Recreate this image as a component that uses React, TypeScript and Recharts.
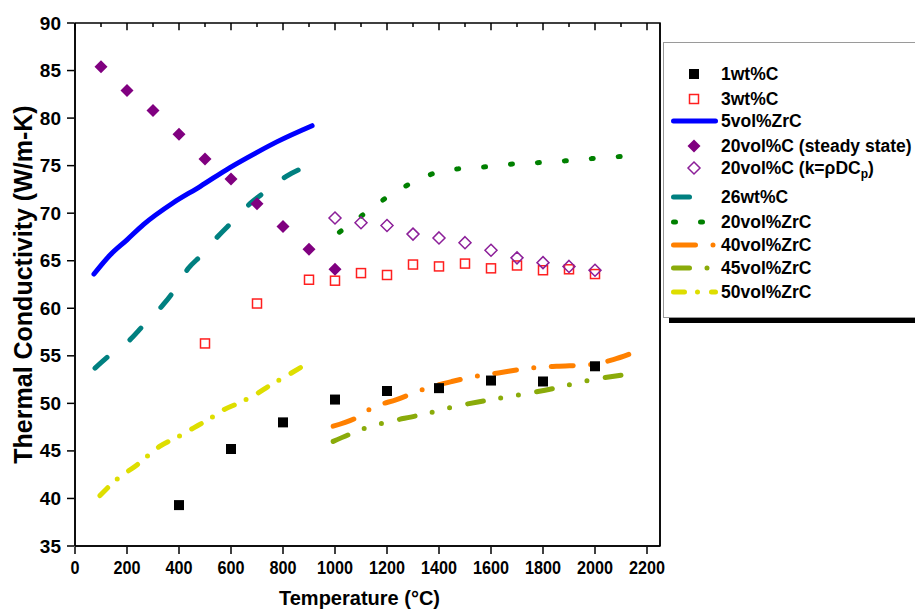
import { ComposedChart, Line, ReferenceArea, ReferenceLine, Scatter, XAxis, YAxis } from "recharts";

// 1wt%C (filled squares)
const t1wt = [400, 600, 800, 1000, 1200, 1400, 1600, 1800, 2000];
const k1wt = [39.3, 45.2, 48.0, 50.4, 51.3, 51.6, 52.4, 52.3, 53.9];

// 3wt%C (open squares)
const t3wt = [500, 700, 900, 1000, 1100, 1200, 1300, 1400, 1500, 1600, 1700, 1800, 1900, 2000];
const k3wt = [56.3, 60.5, 63.0, 62.9, 63.7, 63.5, 64.6, 64.4, 64.7, 64.2, 64.5, 64.0, 64.1, 63.6];

// 20vol%C steady state (filled diamonds)
const tSteady = [100, 200, 300, 400, 500, 600, 700, 800, 900, 1000];
const kSteady = [85.4, 82.9, 80.8, 78.3, 75.7, 73.6, 71.0, 68.6, 66.2, 64.1];

// 20vol%C k=rho*D*Cp (open diamonds)
const tFlash = [1000, 1100, 1200, 1300, 1400, 1500, 1600, 1700, 1800, 1900, 2000];
const kFlash = [69.5, 69.0, 68.7, 67.8, 67.4, 66.9, 66.1, 65.3, 64.8, 64.4, 64.0];

// curves
const t5ZrC = [73, 135, 200, 263, 378, 481, 596, 700, 776, 912];
const k5ZrC = [63.6, 65.6, 67.2, 68.8, 71.1, 72.8, 74.8, 76.4, 77.5, 79.2];

const t26wt = [77, 135, 212, 263, 340, 385, 436, 487, 551, 609, 673, 744, 814, 897];
const k26wt = [53.7, 55.1, 56.7, 58.2, 60.4, 62.0, 64.2, 65.6, 67.6, 69.2, 71.0, 72.5, 73.9, 75.0];

const t20ZrC = [1017, 1106, 1196, 1282, 1382, 1487, 1592, 1699, 1804, 1908, 2013, 2119];
const k20ZrC = [68.0, 69.8, 71.6, 73.0, 74.2, 74.7, 74.9, 75.2, 75.35, 75.55, 75.8, 76.0];

const t40ZrC = [993, 1090, 1141, 1237, 1353, 1449, 1532, 1628, 1750, 1852, 1973, 2070, 2135];
const k40ZrC = [47.6, 48.6, 49.5, 50.4, 51.6, 52.3, 52.8, 53.2, 53.7, 53.9, 54.05, 54.6, 55.2];

const t45ZrC = [993, 1070, 1128, 1196, 1314, 1378, 1449, 1583, 1709, 1846, 1974, 2109];
const k45ZrC = [46.0, 46.9, 47.5, 48.0, 48.7, 49.1, 49.6, 50.3, 50.9, 51.6, 52.4, 53.0];

const t50ZrC = [96, 160, 237, 327, 397, 455, 513, 570, 635, 692, 756, 814, 882];
const k50ZrC = [40.3, 42.0, 43.5, 45.5, 46.5, 47.4, 48.3, 49.3, 50.1, 50.9, 52.0, 52.9, 54.0];

const xMajor = [0, 200, 400, 600, 800, 1000, 1200, 1400, 1600, 1800, 2000, 2200];
const yMajor = [35, 40, 45, 50, 55, 60, 65, 70, 75, 80, 85, 90];

const xMinor = xMajor.map((t) => t + 100).filter((t) => t < 2250);
const yMinor = yMajor.flatMap((t) => [t + 1, t + 2, t + 3, t + 4]).filter((t) => t < 90);

const X_MIN = 0;
const X_MAX = 2250;
const Y_MIN = 35;
const Y_TOP = 90;
const X_DOMAIN = [X_MIN, X_MAX];
const Y_DOMAIN = [Y_MIN, Y_TOP];
// inward tick lengths on the top frame, in y units (about 7px and 4px)
const TOP_MAJOR_LEN = 0.75;
const TOP_MINOR_LEN = 0.42;

const pts = (xs: number[], ys: number[]) => xs.map((x, i) => ({ x, y: ys[i] }));

const FONT = "'Liberation Sans', Arial, sans-serif";
const AXIS_LINE = { stroke: "#000", strokeWidth: 1.5 };
const TICK_LINE = { stroke: "#000", strokeWidth: 1.5 };

const BottomTick = ({ x, y, payload }: any) => (
  <text
    transform={`translate(${x},${y + 14}) scale(0.9,1)`}
    textAnchor="middle"
    dominantBaseline="central"
    fontFamily={FONT}
    fontWeight="bold"
    fontSize={18}
    fill="#000"
  >
    {payload.value}
  </text>
);

const LeftTick = ({ x, y, payload }: any) => (
  <text
    x={x - 6}
    y={y}
    textAnchor="end"
    dominantBaseline="central"
    fontFamily={FONT}
    fontWeight="bold"
    fontSize={19}
    fill="#000"
  >
    {payload.value}
  </text>
);

const FilledSquare = ({ cx, cy }: any) => <rect x={cx - 5} y={cy - 5} width={10} height={10} fill="#000" />;
const OpenSquare = ({ cx, cy }: any) => (
  <rect x={cx - 4.5} y={cy - 4.5} width={9} height={9} fill="none" stroke="#ff1f1f" strokeWidth={1.5} />
);
const diamond = (cx: number, cy: number, r: number) =>
  `${cx},${cy - r} ${cx + r},${cy} ${cx},${cy + r} ${cx - r},${cy}`;
const FilledDiamond = ({ cx, cy }: any) => <polygon points={diamond(cx, cy, 6.5)} fill="#800080" />;
const OpenDiamond = ({ cx, cy }: any) => (
  <polygon points={diamond(cx, cy, 6)} fill="none" stroke="#8c1f99" strokeWidth={1.5} />
);

const DASH = {
  teal: "16 29",
  green: "2 25",
  orange: "22 17.5 0 17.5",
  olive: "16 17.5 0 18 0 18.5",
  yellow: "11 13 0 14",
};

const legendRows = [
  { label: "1wt%C", kind: "fsq" },
  { label: "3wt%C", kind: "osq" },
  { label: "5vol%ZrC", kind: "line", color: "#0000ff" },
  { label: "20vol%C (steady state)", kind: "fdia" },
  { label: "20vol%C (k=ρDC", kind: "odia" },
  { label: "26wt%C", kind: "line", color: "#008080", dash: DASH.teal },
  { label: "20vol%ZrC", kind: "line", color: "#008000", dash: DASH.green },
  { label: "40vol%ZrC", kind: "line", color: "#ff8000", dash: DASH.orange },
  { label: "45vol%ZrC", kind: "line", color: "#8aab0a", dash: DASH.olive },
  { label: "50vol%ZrC", kind: "line", color: "#dede00", dash: DASH.yellow },
];
// row centres, relative to the legend box
const legendY = [31, 56, 78, 103, 125, 154, 179, 202, 225, 249];

const LegendBox = () => (
  <div
    style={{
      position: "absolute",
      left: 663,
      top: 42,
      width: 270,
      height: 274,
      border: "1px solid #9a9a9a",
      background: "#fff",
      boxShadow: "6px 5px 0 0 #000",
    }}
  >
    <svg width={270} height={274} style={{ display: "block" }}>
      {legendRows.map((r, i) => {
        const y = legendY[i];
        let sym = null;
        if (r.kind === "fsq") sym = <FilledSquare cx={30} cy={y} />;
        else if (r.kind === "osq") sym = <OpenSquare cx={30} cy={y} />;
        else if (r.kind === "fdia") sym = <FilledDiamond cx={30} cy={y} />;
        else if (r.kind === "odia") sym = <OpenDiamond cx={30} cy={y} />;
        else
          sym = (
            <line
              x1={9.5}
              x2={51.5}
              y1={y}
              y2={y}
              stroke={r.color}
              strokeWidth={5}
              strokeLinecap="round"
              strokeDasharray={r.dash}
            />
          );
        return (
          <g key={r.label}>
            {sym}
            <text x={57} y={y} dominantBaseline="central" fontFamily={FONT} fontWeight="bold" fontSize={17.5} fill="#000">
              {r.label}
              {r.kind === "odia" && (
                <>
                  <tspan fontSize={12} dy={6}>
                    p
                  </tspan>
                  <tspan dy={-6}>)</tspan>
                </>
              )}
            </text>
          </g>
        );
      })}
    </svg>
  </div>
);

const XTitle = ({ viewBox }: any) => (
  <text
    x={viewBox.x + viewBox.width / 2 - 8}
    y={viewBox.y + 51}
    textAnchor="middle"
    dominantBaseline="central"
    fontFamily={FONT}
    fontWeight="bold"
    fontSize={20}
    fill="#000"
  >
    Temperature (°C)
  </text>
);

const YTitle = ({ viewBox }: any) => (
  <text
    transform={`translate(23,${viewBox.y + viewBox.height / 2}) rotate(-90)`}
    textAnchor="middle"
    dominantBaseline="central"
    fontFamily={FONT}
    fontWeight="bold"
    fontSize={25}
    fill="#000"
  >
    Thermal Conductivity (W/m-K)
  </text>
);

const lineProps = {
  type: "monotone" as const,
  dataKey: "y",
  dot: false,
  activeDot: false,
  strokeWidth: 5,
  strokeLinecap: "round" as const,
  isAnimationActive: false,
  legendType: "none" as const,
};

const xCommon = {
  type: "number" as const,
  dataKey: "x",
  domain: X_DOMAIN,
  interval: 0 as const,
  tickMargin: 0,
  tickLine: TICK_LINE,
};
const yCommon = {
  type: "number" as const,
  dataKey: "y",
  domain: Y_DOMAIN,
  interval: 0 as const,
  tickMargin: 0,
  tickLine: TICK_LINE,
};

export default function App() {
  return (
    <div
      style={{
        position: "absolute",
        left: 0,
        top: 0,
        width: 915,
        height: 611,
        overflow: "hidden",
        background: "#fff",
        fontFamily: FONT,
      }}
    >
      <ComposedChart width={915} height={611} margin={{ top: 23, right: 253, bottom: 0, left: 0 }}>
        {/* bottom: majors with labels (b2), minors (b1) next to the plot */}
        <XAxis {...xCommon} xAxisId="b2" ticks={xMajor} tickSize={7} tick={<BottomTick />} height={64} axisLine={false} label={{ content: XTitle }} />
        <XAxis {...xCommon} xAxisId="b1" ticks={xMinor} tickSize={4} tick={false} height={1} axisLine={AXIS_LINE} />
        {/* left: majors with labels (l2), minors (l1) next to the plot */}
        <YAxis {...yCommon} yAxisId="l2" ticks={yMajor} tickSize={7} tick={<LeftTick />} width={74} axisLine={false} label={{ content: YTitle }} />
        <YAxis {...yCommon} yAxisId="l1" ticks={yMinor} tickSize={4} tick={false} width={1} axisLine={AXIS_LINE} />
        {/* right frame, inward ticks */}
        <YAxis {...yCommon} yAxisId="r2" orientation="right" ticks={yMajor} tickSize={-7} tick={false} width={1} axisLine={false} />
        <YAxis {...yCommon} yAxisId="r1" orientation="right" ticks={yMinor} tickSize={-4} tick={false} width={1} axisLine={AXIS_LINE} />

        {/* plot frame (gives the top edge) and inward ticks on the top edge */}
        <ReferenceArea
          xAxisId="b2"
          yAxisId="l2"
          x1={X_MIN}
          x2={X_MAX}
          y1={Y_MIN}
          y2={Y_TOP}
          fill="none"
          fillOpacity={0}
          stroke="#000"
          strokeWidth={1.5}
          ifOverflow="visible"
        />
        {[...xMajor, ...xMinor].map((t) => (
          <ReferenceLine
            key={t}
            xAxisId="b2"
            yAxisId="l2"
            segment={[
              { x: t, y: Y_TOP },
              { x: t, y: Y_TOP - (t % 200 === 0 ? TOP_MAJOR_LEN : TOP_MINOR_LEN) },
            ]}
            stroke="#000"
            strokeWidth={1.5}
            ifOverflow="visible"
          />
        ))}

        <Scatter xAxisId="b2" yAxisId="l2" data={pts(t1wt, k1wt)} shape={<FilledSquare />} isAnimationActive={false} />
        <Scatter xAxisId="b2" yAxisId="l2" data={pts(t3wt, k3wt)} shape={<OpenSquare />} isAnimationActive={false} />
        <Line xAxisId="b2" yAxisId="l2" data={pts(t5ZrC, k5ZrC)} stroke="#0000ff" {...lineProps} />
        <Scatter xAxisId="b2" yAxisId="l2" data={pts(tSteady, kSteady)} shape={<FilledDiamond />} isAnimationActive={false} />
        <Scatter xAxisId="b2" yAxisId="l2" data={pts(tFlash, kFlash)} shape={<OpenDiamond />} isAnimationActive={false} />
        <Line xAxisId="b2" yAxisId="l2" data={pts(t26wt, k26wt)} stroke="#008080" strokeDasharray={DASH.teal} {...lineProps} />
        <Line xAxisId="b2" yAxisId="l2" data={pts(t20ZrC, k20ZrC)} stroke="#008000" strokeDasharray={DASH.green} {...lineProps} />
        <Line xAxisId="b2" yAxisId="l2" data={pts(t40ZrC, k40ZrC)} stroke="#ff8000" strokeDasharray={DASH.orange} {...lineProps} />
        <Line xAxisId="b2" yAxisId="l2" data={pts(t45ZrC, k45ZrC)} stroke="#8aab0a" strokeDasharray={DASH.olive} {...lineProps} />
        <Line xAxisId="b2" yAxisId="l2" data={pts(t50ZrC, k50ZrC)} stroke="#dede00" strokeDasharray={DASH.yellow} {...lineProps} />
      </ComposedChart>
      <LegendBox />
    </div>
  );
}
